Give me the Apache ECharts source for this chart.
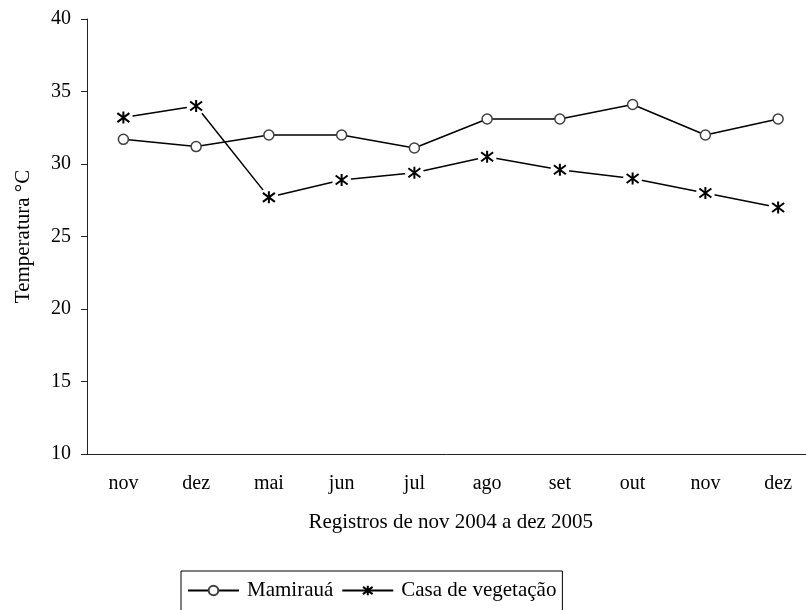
<!DOCTYPE html>
<html>
<head>
<meta charset="utf-8">
<script src="https://cdn.jsdelivr.net/npm/echarts@6/dist/echarts.min.js"></script>
<style>
  html, body { margin: 0; padding: 0; background: #fff; }
  #chart { width: 806px; height: 610px; }
</style>
</head>
<body>
<div id="chart"></div>
<script>
// meses dos registros (nov 2004 a dez 2005)
var meses = ['nov', 'dez', 'mai', 'jun', 'jul', 'ago', 'set', 'out', 'nov', 'dez'];
var mamiraua = [31.7, 31.2, 32.0, 32.0, 31.1, 33.1, 33.1, 34.1, 32.0, 33.1];
var casaVegetacao = [33.2, 34.0, 27.7, 28.9, 29.4, 30.5, 29.6, 29.0, 28.0, 27.0];
var yMin = 10, yMax = 40, yStep = 5;

var fonte = 'Liberation Serif, Times New Roman, serif';
// asterisco (barra vertical + X)
var asterisco = 'path://M6,0L6,12M1,1.5L11,10.5M1,10.5L11,1.5';

var myChart = echarts.init(document.getElementById('chart'));
var option = {
    animation: false,
    textStyle: { fontFamily: fonte, color: '#000' },
    grid: { left: 87, top: 19, width: 727.5, height: 435, outerBoundsMode: 'none' },
    legend: {
        data: ['Mamirauá', 'Casa de vegetação'],
        left: 181,
        top: 571,
        padding: [9, 6, 30, 6],
        itemWidth: 51,
        itemHeight: 12,
        itemGap: 8,
        borderColor: '#000',
        borderWidth: 1,
        textStyle: { fontFamily: fonte, fontSize: 21, color: '#000', padding: [0, 0, 0, 3] }
    },
    xAxis: {
        type: 'category',
        data: meses,
        boundaryGap: true,
        name: 'Registros de nov 2004 a dez 2005',
        nameLocation: 'middle',
        nameGap: 58,
        nameTextStyle: { fontFamily: fonte, fontSize: 21, color: '#000' },
        axisLine: { lineStyle: { color: '#222', width: 1 } },
        axisTick: { length: 6, lineStyle: { color: '#222' } },
        axisLabel: { margin: 20, fontFamily: fonte, fontSize: 20, color: '#000' },
        splitLine: { show: false }
    },
    yAxis: {
        type: 'value',
        min: yMin,
        max: yMax,
        interval: yStep,
        name: 'Temperatura °C',
        nameLocation: 'middle',
        nameGap: 53,
        nameTextStyle: { fontFamily: fonte, fontSize: 21, color: '#000' },
        axisLine: { show: true, lineStyle: { color: '#222', width: 1 } },
        axisTick: { show: true, length: 6, lineStyle: { color: '#222' } },
        axisLabel: { margin: 16, fontFamily: fonte, fontSize: 20, color: '#000' },
        splitLine: { show: false }
    },
    series: [
        {
            name: 'Mamirauá',
            type: 'line',
            data: mamiraua,
            z: 5,
            symbol: 'circle',
            symbolSize: 10,
            lineStyle: { color: '#000', width: 1.5 },
            itemStyle: { color: '#fff', borderColor: '#404040', borderWidth: 1.5 }
        },
        {
            name: 'Casa de vegetação',
            type: 'line',
            data: casaVegetacao,
            z: 2,
            symbol: asterisco,
            symbolSize: [12, 12],
            lineStyle: { color: '#000', width: 1.5 },
            itemStyle: { color: '#000', borderColor: '#000', borderWidth: 2 }
        },
        {
            // circulos brancos que cortam a linha em volta dos asteriscos
            name: 'gap',
            type: 'line',
            data: casaVegetacao,
            z: 3,
            silent: true,
            symbol: 'circle',
            symbolSize: 19,
            lineStyle: { width: 0, opacity: 0 },
            itemStyle: { color: '#fff', borderWidth: 0 }
        },
        {
            name: 'asteriscos',
            type: 'line',
            data: casaVegetacao,
            z: 4,
            silent: true,
            symbol: asterisco,
            symbolSize: [12, 12],
            lineStyle: { width: 0, opacity: 0 },
            itemStyle: { color: '#000', borderColor: '#000', borderWidth: 2 }
        }
    ]
};
myChart.setOption(option);
</script>
</body>
</html>
